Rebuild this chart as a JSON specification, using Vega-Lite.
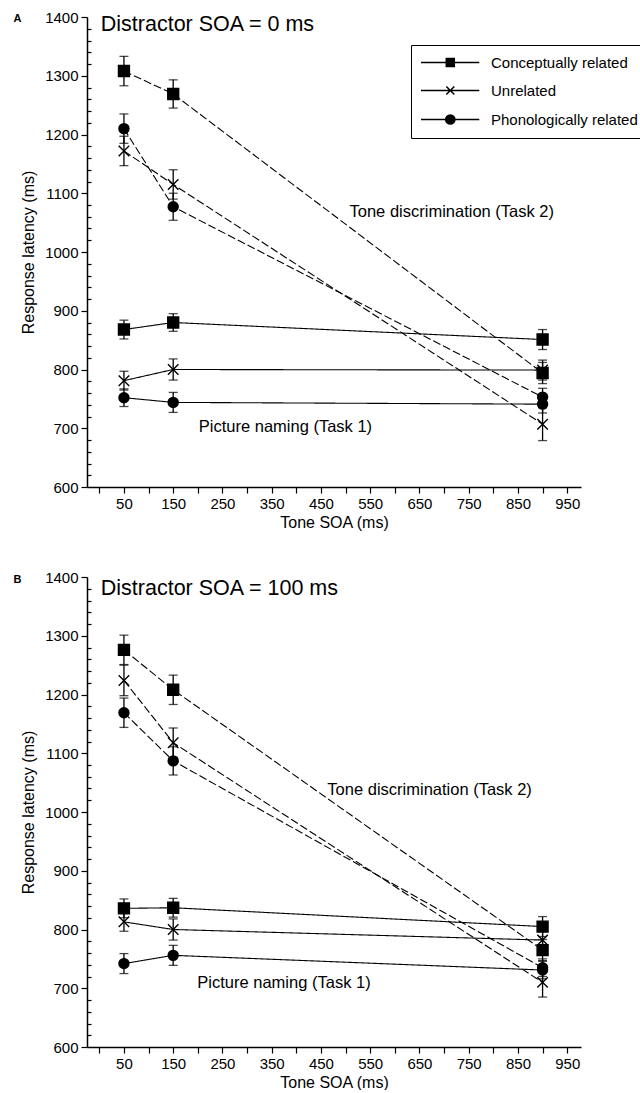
{
  "$schema": "https://vega.github.io/schema/vega-lite/v6.json",
  "background": "white",
  "padding": {"left": 13, "top": 10, "right": 0, "bottom": 0},
  "spacing": 40,
  "config": {
    "view": {"stroke": null},
    "axis": {"domainColor": "black", "tickColor": "black", "labelColor": "black", "titleColor": "black", "labelFont": "Liberation Sans", "titleFont": "Liberation Sans", "labelFontSize": 15, "titleFontSize": 16, "titleFontWeight": "normal", "grid": false, "tickWidth": 1.2, "domainWidth": 1.5, "labelOverlap": false, "labelFlush": false},
    "text": {"font": "Liberation Sans", "color": "black"}
  },
  "datasets": {
    "main": [
      {"panel": "A", "task": "Task 2", "cond": "Conceptually related", "soa": 50, "rt": 1308, "lo": 1283, "hi": 1333},
      {"panel": "A", "task": "Task 2", "cond": "Conceptually related", "soa": 150, "rt": 1269, "lo": 1245, "hi": 1293},
      {"panel": "A", "task": "Task 2", "cond": "Conceptually related", "soa": 900, "rt": 794, "lo": 776, "hi": 812},
      {"panel": "A", "task": "Task 2", "cond": "Unrelated", "soa": 50, "rt": 1172, "lo": 1147, "hi": 1197},
      {"panel": "A", "task": "Task 2", "cond": "Unrelated", "soa": 150, "rt": 1115, "lo": 1090, "hi": 1140},
      {"panel": "A", "task": "Task 2", "cond": "Unrelated", "soa": 900, "rt": 707, "lo": 679, "hi": 735},
      {"panel": "A", "task": "Task 2", "cond": "Phonologically related", "soa": 50, "rt": 1210, "lo": 1185, "hi": 1235},
      {"panel": "A", "task": "Task 2", "cond": "Phonologically related", "soa": 150, "rt": 1077, "lo": 1054, "hi": 1100},
      {"panel": "A", "task": "Task 2", "cond": "Phonologically related", "soa": 900, "rt": 753, "lo": 738, "hi": 768},
      {"panel": "A", "task": "Task 1", "cond": "Conceptually related", "soa": 50, "rt": 868, "lo": 852, "hi": 884},
      {"panel": "A", "task": "Task 1", "cond": "Conceptually related", "soa": 150, "rt": 880, "lo": 865, "hi": 895},
      {"panel": "A", "task": "Task 1", "cond": "Conceptually related", "soa": 900, "rt": 851, "lo": 834, "hi": 868},
      {"panel": "A", "task": "Task 1", "cond": "Unrelated", "soa": 50, "rt": 781, "lo": 765, "hi": 797},
      {"panel": "A", "task": "Task 1", "cond": "Unrelated", "soa": 150, "rt": 800, "lo": 782, "hi": 818},
      {"panel": "A", "task": "Task 1", "cond": "Unrelated", "soa": 900, "rt": 799, "lo": 782, "hi": 816},
      {"panel": "A", "task": "Task 1", "cond": "Phonologically related", "soa": 50, "rt": 752, "lo": 737, "hi": 767},
      {"panel": "A", "task": "Task 1", "cond": "Phonologically related", "soa": 150, "rt": 744, "lo": 727, "hi": 761},
      {"panel": "A", "task": "Task 1", "cond": "Phonologically related", "soa": 900, "rt": 741, "lo": 726, "hi": 756},
      {"panel": "B", "task": "Task 2", "cond": "Conceptually related", "soa": 50, "rt": 1276, "lo": 1251, "hi": 1301},
      {"panel": "B", "task": "Task 2", "cond": "Conceptually related", "soa": 150, "rt": 1208, "lo": 1183, "hi": 1233},
      {"panel": "B", "task": "Task 2", "cond": "Conceptually related", "soa": 900, "rt": 765, "lo": 747, "hi": 783},
      {"panel": "B", "task": "Task 2", "cond": "Unrelated", "soa": 50, "rt": 1224, "lo": 1198, "hi": 1250},
      {"panel": "B", "task": "Task 2", "cond": "Unrelated", "soa": 150, "rt": 1118, "lo": 1093, "hi": 1143},
      {"panel": "B", "task": "Task 2", "cond": "Unrelated", "soa": 900, "rt": 710, "lo": 685, "hi": 735},
      {"panel": "B", "task": "Task 2", "cond": "Phonologically related", "soa": 50, "rt": 1169, "lo": 1144, "hi": 1194},
      {"panel": "B", "task": "Task 2", "cond": "Phonologically related", "soa": 150, "rt": 1087, "lo": 1063, "hi": 1111},
      {"panel": "B", "task": "Task 2", "cond": "Phonologically related", "soa": 900, "rt": 735, "lo": 720, "hi": 750},
      {"panel": "B", "task": "Task 1", "cond": "Conceptually related", "soa": 50, "rt": 836, "lo": 820, "hi": 852},
      {"panel": "B", "task": "Task 1", "cond": "Conceptually related", "soa": 150, "rt": 837, "lo": 821, "hi": 853},
      {"panel": "B", "task": "Task 1", "cond": "Conceptually related", "soa": 900, "rt": 805, "lo": 788, "hi": 822},
      {"panel": "B", "task": "Task 1", "cond": "Unrelated", "soa": 50, "rt": 813, "lo": 797, "hi": 829},
      {"panel": "B", "task": "Task 1", "cond": "Unrelated", "soa": 150, "rt": 800, "lo": 782, "hi": 818},
      {"panel": "B", "task": "Task 1", "cond": "Unrelated", "soa": 900, "rt": 782, "lo": 767, "hi": 797},
      {"panel": "B", "task": "Task 1", "cond": "Phonologically related", "soa": 50, "rt": 742, "lo": 725, "hi": 759},
      {"panel": "B", "task": "Task 1", "cond": "Phonologically related", "soa": 150, "rt": 756, "lo": 739, "hi": 773},
      {"panel": "B", "task": "Task 1", "cond": "Phonologically related", "soa": 900, "rt": 731, "lo": 716, "hi": 746}
    ],
    "notes": [
      {"panel": "A", "kind": "tag", "soa": -174, "rt": 1396, "label": "A"},
      {"panel": "A", "kind": "title", "soa": 3, "rt": 1376, "label": "Distractor SOA = 0 ms"},
      {"panel": "A", "kind": "note", "soa": 508, "rt": 1060, "label": "Tone discrimination (Task 2)"},
      {"panel": "A", "kind": "note", "soa": 202, "rt": 694, "label": "Picture naming (Task 1)"},
      {"panel": "B", "kind": "tag", "soa": -174, "rt": 1395, "label": "B"},
      {"panel": "B", "kind": "title", "soa": 3, "rt": 1369, "label": "Distractor SOA = 100 ms"},
      {"panel": "B", "kind": "note", "soa": 463, "rt": 1029, "label": "Tone discrimination (Task 2)"},
      {"panel": "B", "kind": "note", "soa": 199, "rt": 701, "label": "Picture naming (Task 1)"}
    ]
  },
  "vconcat": [
    {
      "width": 494,
      "height": 470,
      "resolve": {"scale": {"shape": "independent"}, "legend": {"shape": "independent"}},
      "encoding": {
        "x": {"field": "soa", "type": "quantitative", "scale": {"domain": [-25, 978], "nice": false, "zero": false},
          "axis": {"title": "Tone SOA (ms)", "values": [0,50,100,150,200,250,300,350,400,450,500,550,600,650,700,750,800,850,900,950], "labelExpr": "datum.value % 100 === 50 ? datum.label : ''", "tickSize": 6, "labelPadding": 3, "titlePadding": 3, "format": "d", "labelFlush": false, "labelOverlap": false}},
        "y": {"field": "rt", "type": "quantitative", "scale": {"domain": [600, 1400], "nice": false, "zero": false},
          "axis": {"title": "Response latency (ms)", "values": [600,620,640,660,680,700,720,740,760,780,800,820,840,860,880,900,920,940,960,980,1000,1020,1040,1060,1080,1100,1120,1140,1160,1180,1200,1220,1240,1260,1280,1300,1320,1340,1360,1380,1400], "labelExpr": "datum.value % 100 === 0 ? datum.label : ''", "tickSize": {"condition": {"test": "datum.value % 100 === 0", "value": 6}, "value": -4}, "labelPadding": 3, "titlePadding": 8, "format": "d", "labelFlush": false, "labelOverlap": false}}
      },
      "layer": [
        {
          "data": {"name": "main"},
          "transform": [{"filter": "datum.panel === 'A'"}],
          "mark": {"type": "line", "color": "black", "strokeWidth": 1.1},
          "encoding": {
            "detail": {"field": "cond"},
            "strokeDash": {"field": "task", "type": "nominal", "scale": {"domain": ["Task 1", "Task 2"], "range": [[1, 0], [8, 3]]}, "legend": null}
          }
        },
        {
          "data": {"name": "main"},
          "transform": [{"filter": "datum.panel === 'A'"}],
          "mark": {"type": "errorbar", "ticks": {"size": 9, "color": "black"}, "rule": {"color": "black"}, "thickness": 1.3, "color": "black"},
          "encoding": {
            "y": {"field": "lo", "type": "quantitative", "scale": {"domain": [600, 1400], "nice": false, "zero": false},
              "axis": {"title": "Response latency (ms)", "values": [600,620,640,660,680,700,720,740,760,780,800,820,840,860,880,900,920,940,960,980,1000,1020,1040,1060,1080,1100,1120,1140,1160,1180,1200,1220,1240,1260,1280,1300,1320,1340,1360,1380,1400], "labelExpr": "datum.value % 100 === 0 ? datum.label : ''", "tickSize": {"condition": {"test": "datum.value % 100 === 0", "value": 6}, "value": -4}, "labelPadding": 3, "titlePadding": 8, "format": "d", "labelFlush": false, "labelOverlap": false}},
            "y2": {"field": "hi"}
          }
        },
        {
          "data": {"name": "main"},
          "transform": [{"filter": "datum.panel === 'A'"}],
          "mark": {"type": "point", "filled": true, "fill": "black", "stroke": "black", "strokeWidth": 1.4, "opacity": 1},
          "encoding": {
            "size": {"field": "cond", "type": "nominal", "scale": {"domain": ["Conceptually related", "Unrelated", "Phonologically related"], "range": [120, 100, 78]}, "legend": null},
            "shape": {"field": "cond", "type": "nominal", "scale": {"domain": ["Conceptually related", "Unrelated", "Phonologically related"], "range": ["square", "M-1,-1L1,1M-1,1L1,-1", "circle"]}, "legend": null}
          }
        },
        {
          "data": {"name": "main"},
          "transform": [{"filter": "false"}],
          "mark": {"type": "point", "filled": true, "fill": "black", "stroke": "black", "strokeWidth": 1, "opacity": 1},
          "encoding": {
            "shape": {"field": "cond", "type": "nominal",
              "scale": {"domain": ["Conceptually related", "Unrelated", "Phonologically related"], "range": ["M-1.875,0H12.7M4.45,-1H6.45V1H4.45Z", "M-1.875,0H12.7M4.45,-1L6.45,1M4.45,1L6.45,-1", "M-1.875,0H12.7M4.3,0A1.15,1.15,0,1,1,6.6,0A1.15,1.15,0,1,1,4.3,0Z"]},
              "legend": {"orient": "none", "legendX": 324, "legendY": 28, "title": null, "strokeColor": "black", "padding": 10, "labelFontSize": 15, "labelFont": "Liberation Sans", "labelColor": "black", "symbolSize": 64, "labelOffset": 55, "rowPadding": 12}}
          }
        },
        {
          "data": {"name": "notes"},
          "transform": [{"filter": "datum.panel === 'A' && datum.kind === 'tag'"}],
          "mark": {"type": "text", "align": "left", "baseline": "middle", "fontSize": 11, "fontWeight": "bold"},
          "encoding": {"text": {"field": "label"}}
        },
        {
          "data": {"name": "notes"},
          "transform": [{"filter": "datum.panel === 'A' && datum.kind === 'title'"}],
          "mark": {"type": "text", "align": "left", "baseline": "alphabetic", "fontSize": 21.5},
          "encoding": {"text": {"field": "label"}}
        },
        {
          "data": {"name": "notes"},
          "transform": [{"filter": "datum.panel === 'A' && datum.kind === 'note'"}],
          "mark": {"type": "text", "align": "left", "baseline": "alphabetic", "fontSize": 16.5},
          "encoding": {"text": {"field": "label"}}
        }
      ]
    },
    {
      "width": 494,
      "height": 470,
      "encoding": {
        "x": {"field": "soa", "type": "quantitative", "scale": {"domain": [-25, 978], "nice": false, "zero": false},
          "axis": {"title": "Tone SOA (ms)", "values": [0,50,100,150,200,250,300,350,400,450,500,550,600,650,700,750,800,850,900,950], "labelExpr": "datum.value % 100 === 50 ? datum.label : ''", "tickSize": 6, "labelPadding": 3, "titlePadding": 3, "format": "d", "labelFlush": false, "labelOverlap": false}},
        "y": {"field": "rt", "type": "quantitative", "scale": {"domain": [600, 1400], "nice": false, "zero": false},
          "axis": {"title": "Response latency (ms)", "values": [600,620,640,660,680,700,720,740,760,780,800,820,840,860,880,900,920,940,960,980,1000,1020,1040,1060,1080,1100,1120,1140,1160,1180,1200,1220,1240,1260,1280,1300,1320,1340,1360,1380,1400], "labelExpr": "datum.value % 100 === 0 ? datum.label : ''", "tickSize": {"condition": {"test": "datum.value % 100 === 0", "value": 6}, "value": -4}, "labelPadding": 3, "titlePadding": 8, "format": "d", "labelFlush": false, "labelOverlap": false}}
      },
      "layer": [
        {
          "data": {"name": "main"},
          "transform": [{"filter": "datum.panel === 'B'"}],
          "mark": {"type": "line", "color": "black", "strokeWidth": 1.1},
          "encoding": {
            "detail": {"field": "cond"},
            "strokeDash": {"field": "task", "type": "nominal", "scale": {"domain": ["Task 1", "Task 2"], "range": [[1, 0], [8, 3]]}, "legend": null}
          }
        },
        {
          "data": {"name": "main"},
          "transform": [{"filter": "datum.panel === 'B'"}],
          "mark": {"type": "errorbar", "ticks": {"size": 9, "color": "black"}, "rule": {"color": "black"}, "thickness": 1.3, "color": "black"},
          "encoding": {
            "y": {"field": "lo", "type": "quantitative", "scale": {"domain": [600, 1400], "nice": false, "zero": false},
              "axis": {"title": "Response latency (ms)", "values": [600,620,640,660,680,700,720,740,760,780,800,820,840,860,880,900,920,940,960,980,1000,1020,1040,1060,1080,1100,1120,1140,1160,1180,1200,1220,1240,1260,1280,1300,1320,1340,1360,1380,1400], "labelExpr": "datum.value % 100 === 0 ? datum.label : ''", "tickSize": {"condition": {"test": "datum.value % 100 === 0", "value": 6}, "value": -4}, "labelPadding": 3, "titlePadding": 8, "format": "d", "labelFlush": false, "labelOverlap": false}},
            "y2": {"field": "hi"}
          }
        },
        {
          "data": {"name": "main"},
          "transform": [{"filter": "datum.panel === 'B'"}],
          "mark": {"type": "point", "filled": true, "fill": "black", "stroke": "black", "strokeWidth": 1.4, "opacity": 1},
          "encoding": {
            "size": {"field": "cond", "type": "nominal", "scale": {"domain": ["Conceptually related", "Unrelated", "Phonologically related"], "range": [120, 100, 78]}, "legend": null},
            "shape": {"field": "cond", "type": "nominal", "scale": {"domain": ["Conceptually related", "Unrelated", "Phonologically related"], "range": ["square", "M-1,-1L1,1M-1,1L1,-1", "circle"]}, "legend": null}
          }
        },
        {
          "data": {"name": "notes"},
          "transform": [{"filter": "datum.panel === 'B' && datum.kind === 'tag'"}],
          "mark": {"type": "text", "align": "left", "baseline": "middle", "fontSize": 11, "fontWeight": "bold"},
          "encoding": {"text": {"field": "label"}}
        },
        {
          "data": {"name": "notes"},
          "transform": [{"filter": "datum.panel === 'B' && datum.kind === 'title'"}],
          "mark": {"type": "text", "align": "left", "baseline": "alphabetic", "fontSize": 21.5},
          "encoding": {"text": {"field": "label"}}
        },
        {
          "data": {"name": "notes"},
          "transform": [{"filter": "datum.panel === 'B' && datum.kind === 'note'"}],
          "mark": {"type": "text", "align": "left", "baseline": "alphabetic", "fontSize": 16.5},
          "encoding": {"text": {"field": "label"}}
        }
      ]
    }
  ]
}
